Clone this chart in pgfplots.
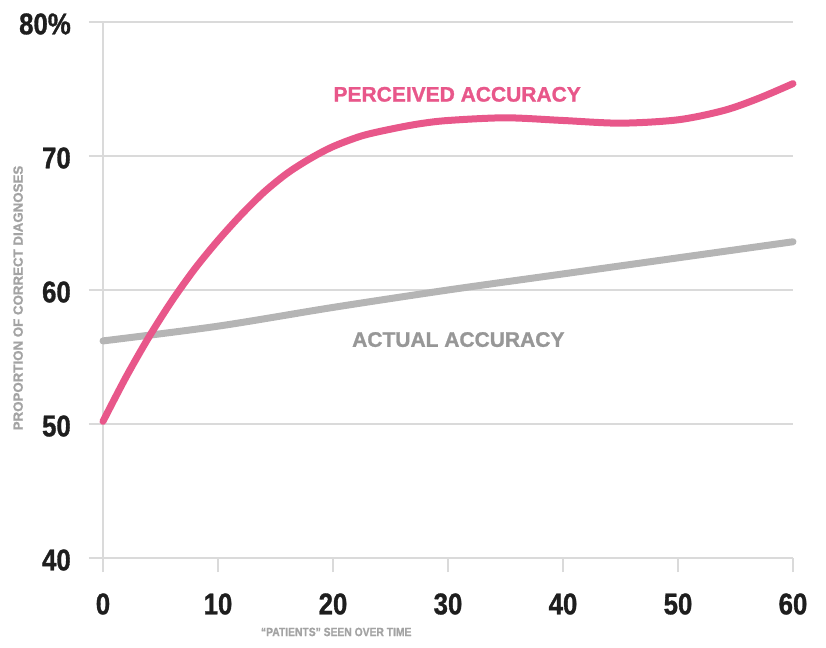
\documentclass[border=0pt]{standalone}
\usepackage{fontspec}
\usepackage{pgfplots}
\pgfplotsset{compat=1.18}
\setmainfont{Liberation Sans}
\newfontfamily\labfont{Liberation Sans Bold}[FakeBold=1.2]
\newfontfamily\condfont{Liberation Sans Bold}[FakeStretch=0.86, FakeBold=1.0]

\definecolor{perceived}{HTML}{E8578A}
\definecolor{actualline}{HTML}{B5B5B5}
\definecolor{actualtext}{HTML}{979797}
\definecolor{gridgray}{HTML}{DADADA}
\definecolor{ticktext}{HTML}{1E1E1E}
\definecolor{labelgray}{HTML}{A3A3A3}

\begin{document}
\begin{tikzpicture}
\useasboundingbox (-103pt,-89pt) rectangle (723pt,558pt);
\begin{axis}[
  scale only axis,
  width=690pt, height=536pt,
  at={(0,0)}, anchor=south west,
  xmin=0, xmax=60, ymin=40, ymax=80,
  xtick={0,10,...,60},
  ytick={40,50,60,70,80},
  yticklabels={40,50,60,70,80\%},
  axis x line*=bottom, axis y line*=left,
  axis line style={gridgray, line width=1.6pt, -},
  ymajorgrids,
  major grid style={gridgray, line width=1.4pt},
  tick align=outside,
  major tick length=14pt,
  tick style={gridgray, line width=1.4pt},
  /pgf/number format/assume math mode=true,
  ticklabel style={font=\condfont\fontsize{30}{30}\selectfont, text=ticktext},
  yticklabel style={anchor=east, inner sep=0pt, xshift=-18pt, yshift=-2pt},
  xticklabel style={anchor=center, inner sep=0pt, yshift=-32pt},
  xlabel={“PATIENTS” SEEN OVER TIME},
  xlabel style={at={(axis description cs:0.338,-0.138)}, anchor=center,
    font=\condfont\fontsize{12}{12}\selectfont, text=labelgray},
  ylabel={PROPORTION OF CORRECT DIAGNOSES},
  ylabel style={at={(axis description cs:-0.123,0.485)}, anchor=center,
    font=\labfont\fontsize{13.3}{14}\selectfont, text=labelgray},
  clip=false,
]
% actual accuracy
\addplot[actualline, line width=7pt, line cap=round, line join=round, smooth, tension=0.5] coordinates {
  (0,56.2) (10,57.3) (20,58.7) (30,60.0) (40,61.2) (50,62.4) (60,63.6)
};
% perceived accuracy
\addplot[perceived, line width=7pt, line cap=round, line join=round, smooth, tension=0.5] coordinates {
  (0,50.2) (2,53.5) (4,56.5) (6,59.2) (8,61.6) (10,63.7) (12,65.6)
  (14,67.3) (16,68.7) (18,69.8) (20,70.7) (22.5,71.5) (25,72.0) (27.5,72.4)
  (30,72.65) (35,72.85) (40,72.65) (45,72.45) (50,72.7) (54,73.4) (57,74.3) (60,75.4)
};
\node[font=\labfont\fontsize{21}{21}\selectfont, text=perceived] at (axis cs:30.8,74.6) {PERCEIVED ACCURACY};
\node[font=\labfont\fontsize{21}{21}\selectfont, text=actualtext] at (axis cs:30.9,56.3) {ACTUAL ACCURACY};
\end{axis}
\end{tikzpicture}
\end{document}
